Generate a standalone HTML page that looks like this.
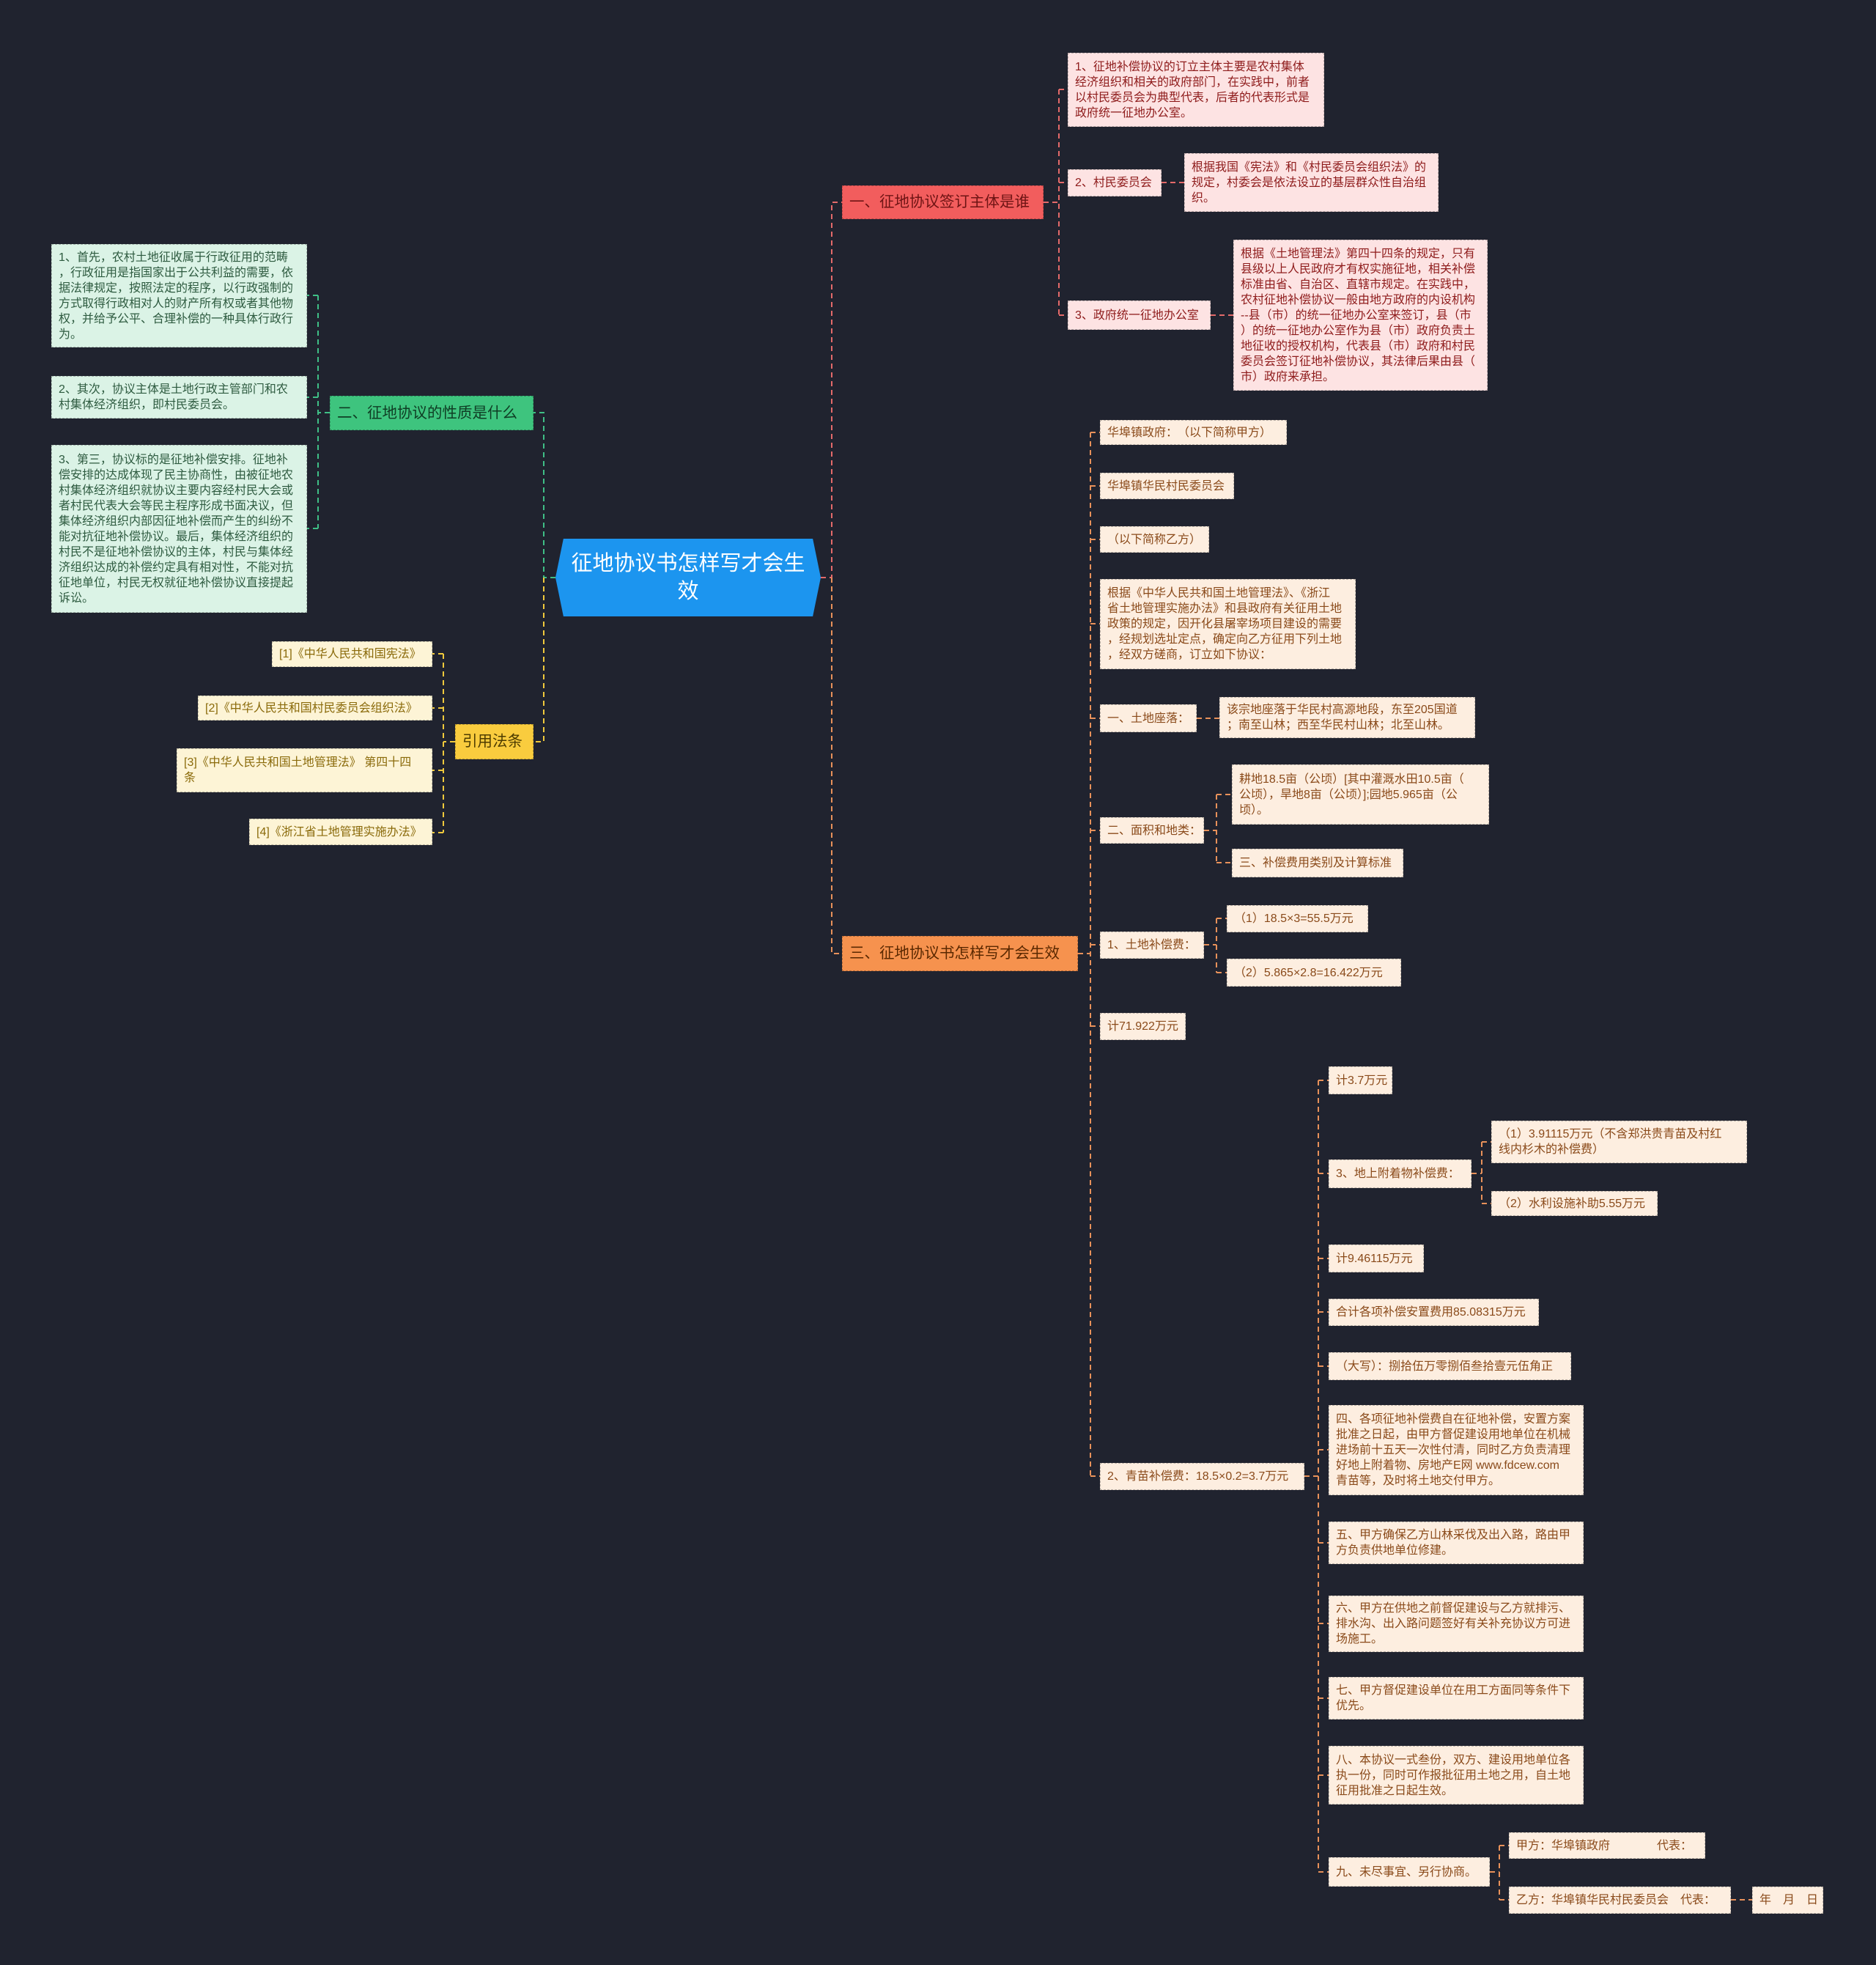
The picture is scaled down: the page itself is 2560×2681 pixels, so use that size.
<!DOCTYPE html>
<html><head><meta charset="utf-8">
<style>
html,body{margin:0;padding:0;}
body{width:2560px;height:2681px;background:#20232f;position:relative;overflow:hidden;font-family:"Liberation Sans","Noto Sans CJK SC",sans-serif;}
.n{position:absolute;box-sizing:border-box;display:flex;align-items:center;padding:0 9px;font-size:16px;line-height:21px;white-space:nowrap;border:1.5px dashed rgba(0,0,0,0.25);}
.r{background:#fde3e3;color:#8e1b1b;}
.g{background:#dbf3e6;color:#2e5b40;}
.y{background:#fdf4d6;color:#8a6a0a;}
.o{background:#fdeee0;color:#8a4a1a;}
.b{font-size:20.5px;line-height:28px;padding:0 9px;}
svg{position:absolute;left:0;top:0;}
</style></head><body>
<svg width="2560" height="2681" fill="none" stroke-width="2" stroke-dasharray="7,5">
<g stroke="#e46a6a">
<path d="M1120 788H1135V276H1149"/>
<path d="M1424 276H1445M1445 122V430M1445 122H1457M1445 249H1457M1445 430H1457"/>
<path d="M1585 249H1616M1652 430H1683"/>
</g>
<g stroke="#e8915a">
<path d="M1135 788V1301H1149"/>
<path d="M1471 1301H1488M1488 590V2014"/>
<path d="M1488 590H1501M1488 663H1501M1488 736H1501M1488 851H1501M1488 980H1501M1488 1133H1501M1488 1289H1501M1488 1400H1501M1488 2014H1501"/>
<path d="M1633 980H1664M1643 1133H1660M1660 1084V1177M1660 1084H1681M1660 1177H1681"/>
<path d="M1643 1289H1660M1660 1253V1327M1660 1253H1674M1660 1327H1674"/>
<path d="M1780 2014H1799M1799 1474V2554"/>
<path d="M1799 1474H1813M1799 1601H1813M1799 1717H1813M1799 1790H1813M1799 1864H1813M1799 1978H1813M1799 2105H1813M1799 2215H1813M1799 2317H1813M1799 2422H1813M1799 2554H1813"/>
<path d="M2008 1601H2022M2022 1558V1642M2022 1558H2035M2022 1642H2035"/>
<path d="M2033 2554H2046M2046 2518V2592M2046 2518H2059M2046 2592H2059M2362 2592H2391"/>
</g>
<g stroke="#3fbf86">
<path d="M758 788H742V563H728"/>
<path d="M450 563H434M434 403V721M434 403H419M434 542H419M434 721H419"/>
</g>
<g stroke="#f0c93c">
<path d="M742 788V1012H728"/>
<path d="M621 1012H605M605 892V1136M605 892H590M605 966H590M605 1051H590M605 1136H590"/>
</g>
</svg>

<div style="position:absolute;left:758px;top:735px;width:362px;height:106px;background:#1c95ef;clip-path:polygon(3% 0,97% 0,100% 50%,97% 100%,3% 100%,0 50%);color:#fff;font-size:29px;line-height:38px;display:flex;align-items:center;justify-content:center;text-align:center;">征地协议书怎样写才会生<br>效</div>

<div class="n b" style="left:1149px;top:253px;width:275px;height:46px;background:#f25d5d;color:#6e1414;">一、征地协议签订主体是谁</div>
<div class="n r" style="left:1457px;top:72px;width:350px;height:101px;">1、征地补偿协议的订立主体主要是农村集体<br>经济组织和相关的政府部门，在实践中，前者<br>以村民委员会为典型代表，后者的代表形式是<br>政府统一征地办公室。</div>
<div class="n r" style="left:1457px;top:231px;width:128px;height:37px;">2、村民委员会</div>
<div class="n r" style="left:1616px;top:209px;width:347px;height:80px;">根据我国《宪法》和《村民委员会组织法》的<br>规定，村委会是依法设立的基层群众性自治组<br>织。</div>
<div class="n r" style="left:1457px;top:410px;width:195px;height:40px;">3、政府统一征地办公室</div>
<div class="n r" style="left:1683px;top:327px;width:347px;height:206px;">根据《土地管理法》第四十四条的规定，只有<br>县级以上人民政府才有权实施征地，相关补偿<br>标准由省、自治区、直辖市规定。在实践中，<br>农村征地补偿协议一般由地方政府的内设机构<br>--县（市）的统一征地办公室来签订，县（市<br>）的统一征地办公室作为县（市）政府负责土<br>地征收的授权机构，代表县（市）政府和村民<br>委员会签订征地补偿协议，其法律后果由县（<br>市）政府来承担。</div>

<div class="n b" style="left:450px;top:540px;width:278px;height:47px;background:#3ec47e;color:#0f3d24;">二、征地协议的性质是什么</div>
<div class="n g" style="left:70px;top:333px;width:349px;height:141px;">1、首先，农村土地征收属于行政征用的范畴<br>，行政征用是指国家出于公共利益的需要，依<br>据法律规定，按照法定的程序，以行政强制的<br>方式取得行政相对人的财产所有权或者其他物<br>权，并给予公平、合理补偿的一种具体行政行<br>为。</div>
<div class="n g" style="left:70px;top:513px;width:349px;height:58px;">2、其次，协议主体是土地行政主管部门和农<br>村集体经济组织，即村民委员会。</div>
<div class="n g" style="left:70px;top:607px;width:349px;height:229px;">3、第三，协议标的是征地补偿安排。征地补<br>偿安排的达成体现了民主协商性，由被征地农<br>村集体经济组织就协议主要内容经村民大会或<br>者村民代表大会等民主程序形成书面决议，但<br>集体经济组织内部因征地补偿而产生的纠纷不<br>能对抗征地补偿协议。最后，集体经济组织的<br>村民不是征地补偿协议的主体，村民与集体经<br>济组织达成的补偿约定具有相对性，不能对抗<br>征地单位，村民无权就征地补偿协议直接提起<br>诉讼。</div>

<div class="n b" style="left:621px;top:988px;width:107px;height:48px;background:#f9cc3e;color:#4d3c00;">引用法条</div>
<div class="n y" style="left:371px;top:875px;width:219px;height:35px;">[1]《中华人民共和国宪法》</div>
<div class="n y" style="left:270px;top:949px;width:320px;height:34px;">[2]《中华人民共和国村民委员会组织法》</div>
<div class="n y" style="left:241px;top:1021px;width:349px;height:60px;">[3]《中华人民共和国土地管理法》 第四十四<br>条</div>
<div class="n y" style="left:340px;top:1117px;width:250px;height:36px;">[4]《浙江省土地管理实施办法》</div>

<div class="n b" style="left:1149px;top:1277px;width:322px;height:48px;background:#f6924e;color:#5a2800;">三、征地协议书怎样写才会生效</div>
<div class="n o" style="left:1501px;top:573px;width:255px;height:34px;">华埠镇政府：　（以下简称甲方）</div>
<div class="n o" style="left:1501px;top:645px;width:183px;height:36px;">华埠镇华民村民委员会</div>
<div class="n o" style="left:1501px;top:718px;width:149px;height:36px;">（以下简称乙方）</div>
<div class="n o" style="left:1501px;top:790px;width:349px;height:123px;">根据《中华人民共和国土地管理法》、《浙江<br>省土地管理实施办法》和县政府有关征用土地<br>政策的规定，因开化县屠宰场项目建设的需要<br>，经规划选址定点，确定向乙方征用下列土地<br>，经双方磋商，订立如下协议：</div>
<div class="n o" style="left:1501px;top:961px;width:132px;height:38px;">一、土地座落：</div>
<div class="n o" style="left:1664px;top:951px;width:349px;height:56px;">该宗地座落于华民村高源地段，东至205国道<br>；南至山林；西至华民村山林；北至山林。</div>
<div class="n o" style="left:1501px;top:1115px;width:142px;height:36px;">二、面积和地类：</div>
<div class="n o" style="left:1681px;top:1043px;width:351px;height:82px;">耕地18.5亩（公顷）[其中灌溉水田10.5亩（<br>公顷），旱地8亩（公顷）];园地5.965亩（公<br>顷）。</div>
<div class="n o" style="left:1681px;top:1158px;width:234px;height:39px;">三、补偿费用类别及计算标准</div>
<div class="n o" style="left:1501px;top:1271px;width:142px;height:37px;">1、土地补偿费：</div>
<div class="n o" style="left:1674px;top:1235px;width:193px;height:37px;">（1）18.5×3=55.5万元</div>
<div class="n o" style="left:1674px;top:1308px;width:238px;height:38px;">（2）5.865×2.8=16.422万元</div>
<div class="n o" style="left:1501px;top:1382px;width:117px;height:37px;">计71.922万元</div>
<div class="n o" style="left:1501px;top:1996px;width:279px;height:37px;">2、青苗补偿费：18.5×0.2=3.7万元</div>
<div class="n o" style="left:1813px;top:1455px;width:87px;height:38px;">计3.7万元</div>
<div class="n o" style="left:1813px;top:1582px;width:195px;height:39px;">3、地上附着物补偿费：</div>
<div class="n o" style="left:2035px;top:1529px;width:349px;height:58px;">（1）3.91115万元（不含郑洪贵青苗及村红<br>线内杉木的补偿费）</div>
<div class="n o" style="left:2035px;top:1625px;width:227px;height:34px;">（2）水利设施补助5.55万元</div>
<div class="n o" style="left:1813px;top:1698px;width:130px;height:38px;">计9.46115万元</div>
<div class="n o" style="left:1813px;top:1772px;width:287px;height:37px;">合计各项补偿安置费用85.08315万元</div>
<div class="n o" style="left:1813px;top:1845px;width:331px;height:38px;">（大写）：捌拾伍万零捌佰叁拾壹元伍角正</div>
<div class="n o" style="left:1813px;top:1917px;width:348px;height:123px;">四、各项征地补偿费自在征地补偿，安置方案<br>批准之日起，由甲方督促建设用地单位在机械<br>进场前十五天一次性付清，同时乙方负责清理<br>好地上附着物、房地产E网 www.fdcew.com<br>青苗等，及时将土地交付甲方。</div>
<div class="n o" style="left:1813px;top:2076px;width:348px;height:58px;">五、甲方确保乙方山林采伐及出入路，路由甲<br>方负责供地单位修建。</div>
<div class="n o" style="left:1813px;top:2177px;width:348px;height:77px;">六、甲方在供地之前督促建设与乙方就排污、<br>排水沟、出入路问题签好有关补充协议方可进<br>场施工。</div>
<div class="n o" style="left:1813px;top:2288px;width:348px;height:58px;">七、甲方督促建设单位在用工方面同等条件下<br>优先。</div>
<div class="n o" style="left:1813px;top:2382px;width:348px;height:80px;">八、本协议一式叁份，双方、建设用地单位各<br>执一份，同时可作报批征用土地之用，自土地<br>征用批准之日起生效。</div>
<div class="n o" style="left:1813px;top:2534px;width:220px;height:40px;">九、未尽事宜、另行协商。</div>
<div class="n o" style="left:2059px;top:2500px;width:268px;height:36px;">甲方：华埠镇政府　　　　代表：</div>
<div class="n o" style="left:2059px;top:2574px;width:303px;height:37px;">乙方：华埠镇华民村民委员会　代表：</div>
<div class="n o" style="left:2391px;top:2574px;width:97px;height:37px;">年　月　日</div>
</body></html>
